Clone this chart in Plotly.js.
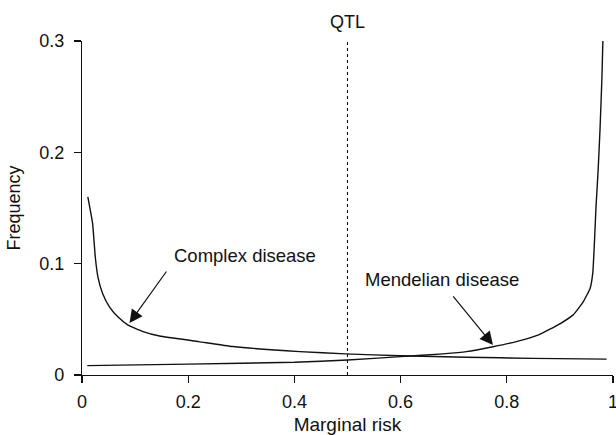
<!DOCTYPE html>
<html>
<head>
<meta charset="utf-8">
<script src="https://cdn.plot.ly/plotly-3.0.1.min.js"></script>
<style>html,body{margin:0;padding:0;background:#fff;}#chart{width:616px;height:435px;}</style>
</head>
<body>
<div id="chart"></div>
<script>
// Complex disease distribution (decreasing)
var complexX = [0.011, 0.020, 0.025, 0.030, 0.039, 0.052, 0.068, 0.086, 0.115, 0.146, 0.220, 0.284, 0.410, 0.496, 0.600, 0.724, 0.850, 0.988];
var complexY = [0.160, 0.136, 0.106, 0.088, 0.073, 0.061, 0.052, 0.045, 0.039, 0.035, 0.030, 0.0256, 0.021, 0.019, 0.0173, 0.016, 0.0149, 0.0143];
// Mendelian disease distribution (increasing)
var mendelX = [0.010, 0.200, 0.400, 0.500, 0.600, 0.680, 0.724, 0.774, 0.818, 0.860, 0.900, 0.925, 0.943, 0.957, 0.962, 0.9655, 0.968, 0.972, 0.9755, 0.979, 0.981];
var mendelY = [0.0084, 0.0098, 0.0114, 0.0135, 0.0165, 0.019, 0.021, 0.0254, 0.030, 0.036, 0.046, 0.054, 0.065, 0.078, 0.092, 0.124, 0.151, 0.184, 0.220, 0.265, 0.301];
// QTL marker
var qtlX = [0.5, 0.5];
var qtlY = [0, 0.302];
var xTicks = [0, 0.2, 0.4, 0.6, 0.8, 1];
var xTickText = ['0', '0.2', '0.4', '0.6', '0.8', '1'];
var yTicks = [0, 0.1, 0.2, 0.3];
var yTickText = ['0', '0.1', '0.2', '0.3'];

var ink = '#111';
var fam = 'Liberation Sans, Arial, sans-serif';
var traces = [
  {x: complexX, y: complexY, mode: 'lines', line: {color: ink, width: 1.4, shape: 'spline', smoothing: 0.4}, hoverinfo: 'skip'},
  {x: mendelX, y: mendelY, mode: 'lines', line: {color: ink, width: 1.4, shape: 'spline', smoothing: 0.4}, hoverinfo: 'skip'},
  {x: qtlX, y: qtlY, mode: 'lines', line: {color: ink, width: 1.1, dash: 'dot'}, hoverinfo: 'skip'}
];

var layout = {
  width: 616, height: 435,
  margin: {l: 82, r: 3, t: 41, b: 60},
  paper_bgcolor: '#fff', plot_bgcolor: '#fff',
  showlegend: false,
  font: {family: fam, color: ink, size: 18},
  xaxis: {
    range: [0, 1], tickvals: xTicks, ticktext: xTickText,
    showgrid: false, zeroline: false, showline: true, linecolor: ink, linewidth: 1.2,
    ticks: 'outside', ticklen: 7, tickcolor: ink, tickwidth: 1.2, ticklabelstandoff: 3,
    ticklabeloverflow: 'allow',
    tickfont: {size: 18, color: ink, family: fam},
    title: {text: 'Marginal risk', font: {size: 19, color: ink, family: fam}, standoff: 8}
  },
  yaxis: {
    range: [0, 0.3], tickvals: yTicks, ticktext: yTickText,
    showgrid: false, zeroline: false, showline: true, linecolor: ink, linewidth: 1.2,
    ticks: 'outside', ticklen: 7, tickcolor: ink, tickwidth: 1.2, ticklabelstandoff: 6,
    ticklabeloverflow: 'allow',
    tickfont: {size: 18, color: ink, family: fam},
    title: {text: 'Frequency', font: {size: 18, color: ink, family: fam}, standoff: 13}
  },
  annotations: [
    {x: 0.5, y: 1, xref: 'x', yref: 'paper', yanchor: 'bottom', yshift: 7, text: 'QTL', showarrow: false, font: {size: 18, color: ink}},
    {x: 0.0895, y: 0.0467, xref: 'x', yref: 'y', ax: 38, ay: -53, text: '', showarrow: true,
     arrowhead: 2, arrowsize: 2.2, arrowwidth: 1.2, arrowcolor: ink},
    {x: 0.169, y: 0.107, xref: 'x', yref: 'y', xanchor: 'left', text: 'Complex disease', showarrow: false, font: {size: 18.5, color: ink}},
    {x: 0.774, y: 0.027, xref: 'x', yref: 'y', ax: -41, ay: -50, text: '', showarrow: true,
     arrowhead: 2, arrowsize: 2.2, arrowwidth: 1.2, arrowcolor: ink},
    {x: 0.529, y: 0.0854, xref: 'x', yref: 'y', xanchor: 'left', text: 'Mendelian disease', showarrow: false, font: {size: 18.5, color: ink}}
  ]
};

Plotly.newPlot('chart', traces, layout, {displayModeBar: false, staticPlot: true});
</script>
</body>
</html>
